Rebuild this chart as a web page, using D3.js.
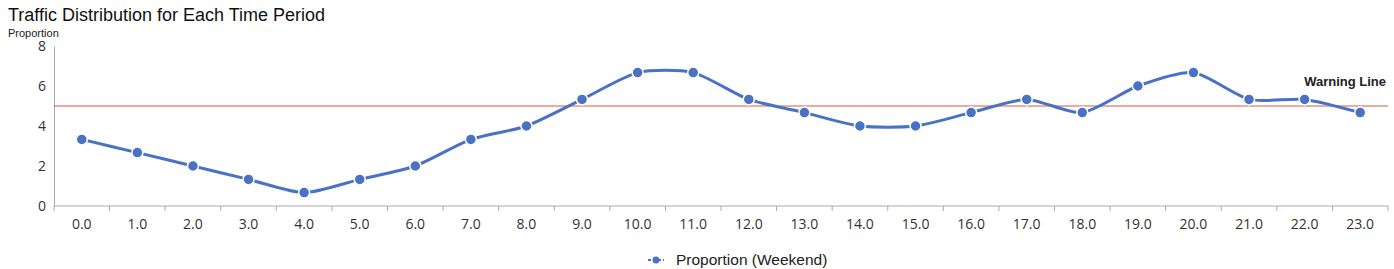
<!DOCTYPE html>
<html>
<head>
<meta charset="utf-8">
<script src="https://cdn.jsdelivr.net/npm/d3@7"></script>
<style>
  body { margin: 0; background: #fff; }
  text { font-family: "Liberation Sans", Arial, sans-serif; }
</style>
</head>
<body>
<svg id="chart" width="1394" height="269"></svg>
<script>
// hours of the day
const hours = ["0.0","1.0","2.0","3.0","4.0","5.0","6.0","7.0","8.0","9.0","10.0","11.0",
  "12.0","13.0","14.0","15.0","16.0","17.0","18.0","19.0","20.0","21.0","22.0","23.0"];

// proportion on weekends
const weekend = [3.33, 2.67, 2.0, 1.33, 0.67, 1.33, 2.0, 3.33, 4.0, 5.33, 6.67, 6.67,
  5.33, 4.67, 4.0, 4.0, 4.67, 5.33, 4.67, 6.0, 6.67, 5.33, 5.33, 4.67];

const yTicks = [0, 2, 4, 6, 8];
const warning = 5;

const svg = d3.select("#chart");
const margin = { top: 46, right: 6, bottom: 63, left: 54 };
const width = +svg.attr("width");
const height = +svg.attr("height");
const innerWidth = width - margin.left - margin.right;
const innerHeight = height - margin.top - margin.bottom;

const blue = "#4a72c4";

const x = d3.scaleBand().domain(hours).range([0, innerWidth]);
const y = d3.scaleLinear().domain([0, 8]).range([innerHeight, 0]);

const g = svg.append("g").attr("transform", `translate(${margin.left},${margin.top})`);

// title
svg.append("text").attr("x", 8).attr("y", 21)
  .attr("font-size", 18).attr("fill", "#111")
  .text("Traffic Distribution for Each Time Period");
svg.append("text").attr("x", 8).attr("y", 37)
  .attr("font-size", 11).attr("fill", "#222")
  .text("Proportion");

// y axis
const yAxis = g.append("g").call(d3.axisLeft(y).tickValues(yTicks).tickSize(0).tickPadding(8));
yAxis.select(".domain").attr("stroke", "#aaa");
yAxis.selectAll("text").attr("font-size", 14).attr("fill", "#333")
  .style("font-family", "'Open Sans', sans-serif");

// x axis, ticks sit on band edges
const xAxisG = g.append("g").attr("transform", `translate(0,${innerHeight})`);
xAxisG.append("line").attr("x1", 0).attr("x2", innerWidth).attr("stroke", "#aaa");
xAxisG.selectAll(".edge").data(d3.range(hours.length + 1)).enter().append("line")
  .attr("class", "edge")
  .attr("x1", i => i * x.step()).attr("x2", i => i * x.step())
  .attr("y1", 0).attr("y2", 5).attr("stroke", "#aaa");
xAxisG.selectAll(".lbl").data(hours).enter().append("text")
  .attr("class", "lbl")
  .attr("x", d => x(d) + x.bandwidth() / 2).attr("y", 23)
  .attr("text-anchor", "middle").attr("font-size", 14).attr("fill", "#333")
  .style("font-family", "'Open Sans', sans-serif")
  .text(d => d);

// warning line
g.append("line").attr("x1", 0).attr("x2", innerWidth)
  .attr("y1", y(warning)).attr("y2", y(warning))
  .attr("stroke", "#d65a44").attr("stroke-width", 1.2);
g.append("text").attr("x", innerWidth - 2).attr("y", y(warning) - 20)
  .attr("text-anchor", "end").attr("font-size", 13).attr("font-weight", "bold")
  .attr("fill", "#222").text("Warning Line");

// series
const line = d3.line()
  .x((d, i) => x(hours[i]) + x.bandwidth() / 2)
  .y(d => y(d))
  .curve(d3.curveCardinal.tension(0.3));

g.append("path").datum(weekend).attr("d", line)
  .attr("fill", "none").attr("stroke", blue).attr("stroke-width", 3);

g.selectAll(".pt").data(weekend).enter().append("circle")
  .attr("class", "pt")
  .attr("cx", (d, i) => x(hours[i]) + x.bandwidth() / 2)
  .attr("cy", d => y(d)).attr("r", 5.5)
  .attr("fill", blue).attr("stroke", "#fff").attr("stroke-width", 1.5);

// legend
const lg = svg.append("g").attr("transform", "translate(648,260)");
lg.append("line").attr("x1", 0).attr("x2", 16).attr("stroke", blue)
  .attr("stroke-width", 2).attr("stroke-dasharray", "3,2");
lg.append("circle").attr("cx", 8).attr("cy", 0).attr("r", 3.5).attr("fill", blue);
lg.append("text").attr("x", 28).attr("y", 5).attr("font-size", 15.5).attr("fill", "#222")
  .text("Proportion (Weekend)");
</script>
</body>
</html>
